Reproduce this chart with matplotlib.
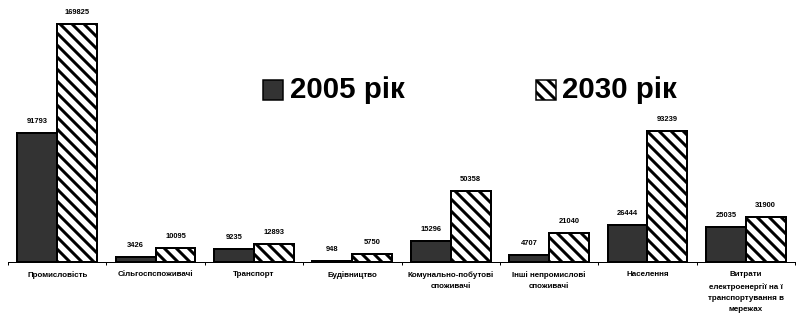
import matplotlib.pyplot as plt
import matplotlib.patches as mpatches
import numpy as np

plt.rcParams['font.family'] = ['Liberation Sans', 'DejaVu Sans']
plt.rcParams['hatch.linewidth'] = 3.0

categories = ['Промисловість', 'Сільгоспспоживачі', 'Транспорт', 'Будівництво',
              'Комунально-побутові\nспоживачі', 'Інші непромислові\nспоживачі',
              'Населення', 'Витрати\nелектроенергії на ї\nтранспортування в\nмережах']
v2005 = [91793, 3426, 9235, 948, 15296, 4707, 26444, 25035]
v2030 = [169825, 10095, 12893, 5750, 50358, 21040, 93239, 31900]
series_names = ['2005 рік', '2030 рік']

W, H, DPI = 796, 319, 72
fig = plt.figure(figsize=(W / DPI, H / DPI), dpi=DPI)
ax = fig.add_axes([8 / W, (H - 262) / H, 787 / W, (262 - 9.7) / H])

x = np.arange(len(categories))
bw = 0.405
b1 = ax.bar(x - bw / 2, v2005, bw, color='#333333', edgecolor='black', linewidth=2)
b2 = ax.bar(x + bw / 2, v2030, bw, color='white', edgecolor='black', linewidth=2,
            hatch='\\\\')

for bars, vals in ((b1, v2005), (b2, v2030)):
    for r, v in zip(bars, vals):
        ax.annotate(str(v), (r.get_x() + r.get_width() / 2, v), xytext=(0, 8),
                    textcoords='offset points', ha='center', va='bottom',
                    fontsize=7.5, fontweight='bold')

ax.set_xlim(-0.5, len(categories) - 0.5)
ax.set_ylim(0, 180000)
for s in ['top', 'right', 'left']:
    ax.spines[s].set_visible(False)
ax.spines['bottom'].set_linewidth(1)
ax.set_yticks([])
ax.set_xticks(np.arange(len(categories) + 1) - 0.5, minor=False)
ax.set_xticklabels([])
ax.tick_params(axis='x', length=3, direction='out', width=1)
ax.set_xticks(x, minor=True)
ax.set_xticklabels(categories, minor=True, fontsize=8, fontweight='bold',
                   linespacing=1.8, va='top')
ax.tick_params(axis='x', which='minor', length=0, pad=9)

# legend drawn as boxes and text
fig.patches.append(mpatches.Rectangle((263 / W, (H - 100) / H), 20 / W, 20 / H,
                                      transform=fig.transFigure, facecolor='#333333',
                                      edgecolor='black', linewidth=1.5))
fig.text(290 / W, (H - 90) / H, series_names[0], fontsize=29.5, fontweight='bold',
         va='center', ha='left')
fig.patches.append(mpatches.Rectangle((536 / W, (H - 100) / H), 20 / W, 20 / H,
                                      transform=fig.transFigure, facecolor='white',
                                      edgecolor='black', linewidth=1.5, hatch='\\\\'))
fig.text(562 / W, (H - 90) / H, series_names[1], fontsize=29.5, fontweight='bold',
         va='center', ha='left')

fig.savefig('out.png', dpi=DPI)
